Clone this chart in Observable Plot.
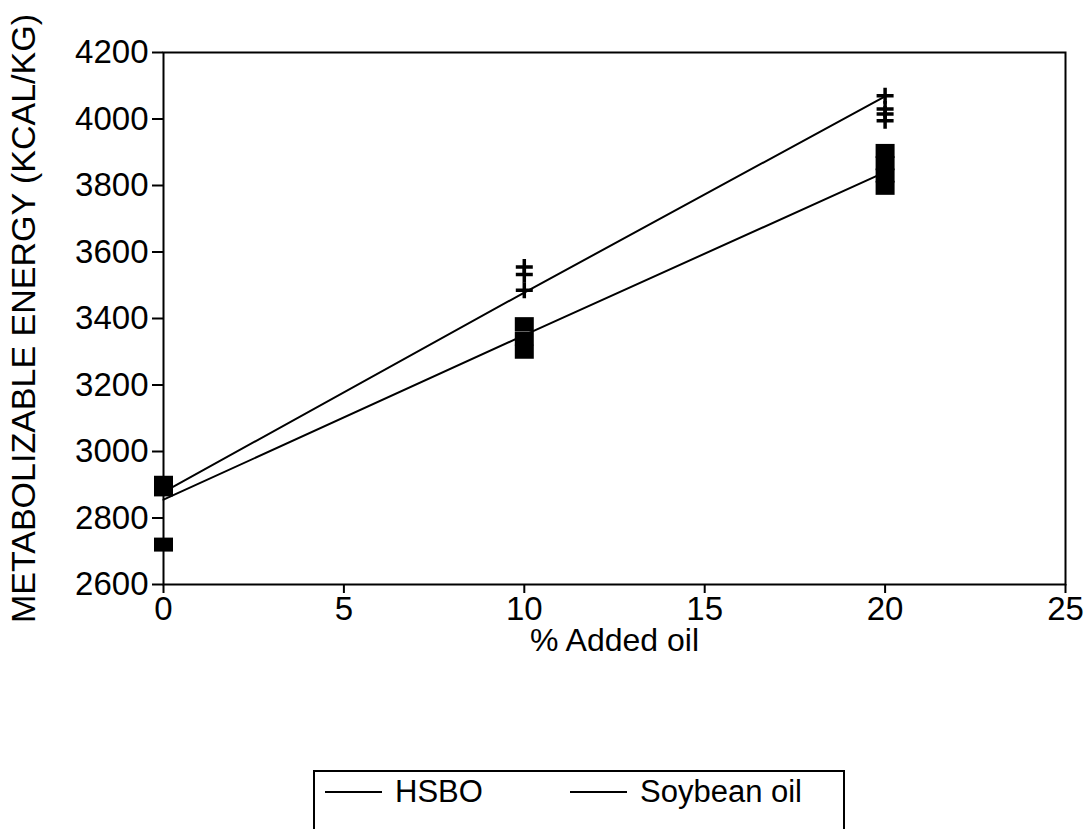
<!DOCTYPE html>
<html>
<head>
<meta charset="utf-8">
<script src="https://cdn.jsdelivr.net/npm/d3@7"></script>
<script src="https://cdn.jsdelivr.net/npm/@observablehq/plot@0.6"></script>
<style>
  body { margin: 0; background: #fff; font-family: "Liberation Sans", Arial, sans-serif; }
  #chart { position: absolute; left: 0; top: 0; }
  #legend { position: absolute; left: 313px; top: 770px; width: 532px; height: 90px;
            border: 2px solid #000; box-sizing: border-box; background: #fff; }
  .item { position: absolute; top: 3px; height: 34px; display: flex; align-items: center;
          font-size: 31px; color: #000; white-space: nowrap; }
  .item .ln { display: inline-block; width: 57px; border-top: 2px solid #000; margin-right: 13px; }
</style>
</head>
<body>
<div id="chart"></div>
<div id="legend"></div>
<script>
// ---- data ----
const seriesNames = ["HSBO", "Soybean oil"];
const oilLevels = [0, 10, 20];                 // % added oil
const hsboFit = [2878, 3478, 4068];            // fitted line, HSBO
const soyFit  = [2855, 3350, 3840];            // fitted line, soybean oil

const hsboObsX = [10, 10, 10, 20, 20, 20, 20];
const hsboObsY = [3555, 3532, 3485, 4070, 4030, 4015, 3995];

const soyObsX = [0, 0, 0, 10, 10, 10, 20, 20, 20, 20];
const soyObsY = [2906, 2886, 2720, 3383, 3340, 3300, 3904, 3867, 3830, 3793];

const xTicks = [0, 5, 10, 15, 20, 25];
const yTicks = [2600, 2800, 3000, 3200, 3400, 3600, 3800, 4000, 4200];

const xLabel = "% Added oil";
const yLabel = "METABOLIZABLE ENERGY (KCAL/KG)";

// ---- tables built from the arrays ----
const lines = [
  ...oilLevels.map((x, i) => ({x, y: hsboFit[i], s: seriesNames[0]})),
  ...oilLevels.map((x, i) => ({x, y: soyFit[i], s: seriesNames[1]}))
];
const hsboObs = hsboObsX.map((x, i) => ({x, y: hsboObsY[i]}));
const soyObs = soyObsX.map((x, i) => ({x, y: soyObsY[i]}));

// custom symbols (shape only; size in px)
const rectSymbol = { draw(ctx) { ctx.rect(-9.5, -7, 19, 14); } };
const plusSymbol = { draw(ctx) { ctx.moveTo(-8.5, 0); ctx.lineTo(8.5, 0); ctx.moveTo(0, -8); ctx.lineTo(0, 8); } };

const chart = Plot.plot({
  width: 1087,
  height: 680,
  marginTop: 52,
  marginBottom: 96,
  marginLeft: 163,
  marginRight: 22,
  style: { fontFamily: "'Liberation Sans', Arial, sans-serif", fontSize: "33px", color: "#000", background: "#fff", overflow: "visible" },
  x: { domain: [0, 25], ticks: xTicks },
  y: { domain: [2600, 4200], ticks: yTicks },
  marks: [
    Plot.frame({ stroke: "#000", strokeWidth: 2 }),
    Plot.axisX({ ticks: xTicks, tickSize: 9, tickPadding: 3, tickFormat: d3.format("d"),
                 label: null, strokeWidth: 2 }),
    Plot.axisX({ ticks: [], tickSize: 0, label: xLabel, labelAnchor: "center", labelArrow: "none",
                 labelOffset: 66, fontSize: 32 }),
    Plot.axisY({ ticks: yTicks, tickSize: 11, tickPadding: 4, tickFormat: d3.format("d"),
                 label: null, strokeWidth: 2 }),
    Plot.axisY({ ticks: [], tickSize: 0, label: yLabel, labelAnchor: "center", labelArrow: "none",
                 labelOffset: 153, fontSize: 34 }),
    Plot.line(lines, { x: "x", y: "y", z: "s", stroke: "#000", strokeWidth: 2 }),
    Plot.dot(soyObs, { x: "x", y: "y", symbol: rectSymbol, fill: "#000", stroke: "none" }),
    Plot.dot(hsboObs, { x: "x", y: "y", symbol: plusSymbol, fill: "none", stroke: "#000", strokeWidth: 3.5 })
  ]
});
document.getElementById("chart").appendChild(chart);

// legend
const legend = document.getElementById("legend");
const lefts = [10, 255];
seriesNames.forEach((name, i) => {
  const d = document.createElement("div");
  d.className = "item";
  d.style.left = lefts[i] + "px";
  d.innerHTML = '<span class="ln"></span>';
  d.appendChild(document.createTextNode(name));
  legend.appendChild(d);
});
</script>
</body>
</html>
